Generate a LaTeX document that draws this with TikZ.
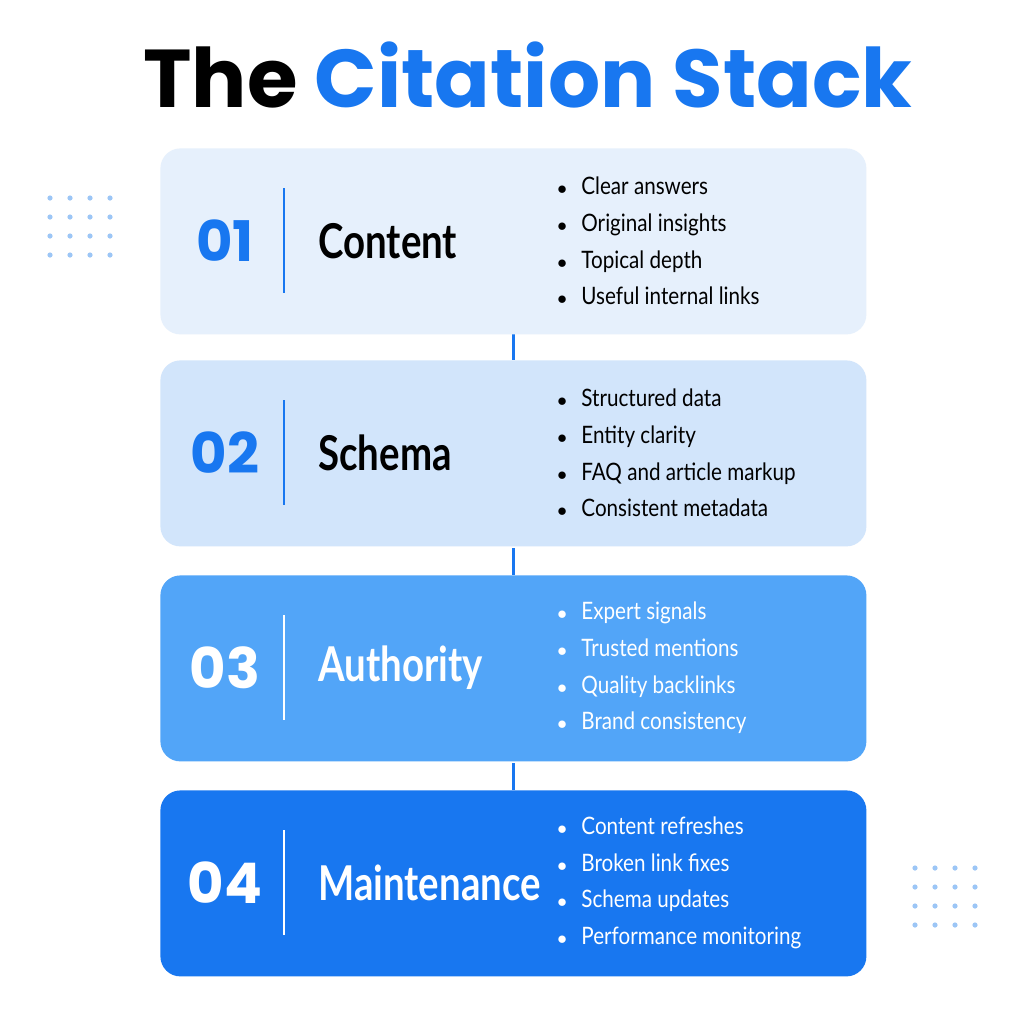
\documentclass[tikz,border=0pt]{standalone}
\usepackage{fontspec}
\setmainfont{Lato}
\newfontfamily\popfont{Poppins}
\newfontfamily\narrowfont[FakeStretch=0.86]{Lato}
\newfontfamily\headfont[FakeStretch=0.8]{Lato}
\usetikzlibrary{positioning}
\definecolor{stackblue}{HTML}{1877F0}
\definecolor{boxA}{HTML}{E6F0FC}
\definecolor{boxB}{HTML}{D2E5FB}
\definecolor{boxC}{HTML}{52A5F8}
\definecolor{boxD}{HTML}{1877F0}
\definecolor{dotblue}{HTML}{9CC6F6}
\tikzset{
  layer/.style={draw=none, rounded corners=10pt, minimum width=353pt, minimum height=93pt, anchor=north west},
  num/.style={font=\popfont\bfseries\fontsize{28}{32}\selectfont, anchor=center},
  head/.style={font=\headfont\bfseries\fontsize{24}{27}\selectfont, anchor=west, inner sep=0pt},
  items/.style={font=\narrowfont\fontsize{12}{18.3}\selectfont, anchor=west, align=left, inner sep=0pt},
  link/.style={stackblue, line width=1.5pt}
}
\newcommand{\bul}{\makebox[12pt][l]{\scalebox{0.8}{$\bullet$}}}
\newcommand{\layer}[7]{%
  \node[layer, fill=#3] (box#1) at (160,#2) {};
  \node[num, text=#4] (num#1) at (225,#2+93) {0#1};
  \draw[#4, line width=0.8pt] (284,#2+40) -- (284,#2+145);
  \node[head, text=#5] (head#1) at (318,#2+93) {#6};
  \node[items, text=#5] (items#1) at (557,#2+93) {#7};
}
\begin{document}
\begin{tikzpicture}[x=0.5pt, y=-0.5pt]
  \useasboundingbox[fill=white] (0,0) rectangle (1024,1024);
  \node[font=\popfont\bfseries\fontsize{41}{44}\selectfont] (title) at (528,75) {The \textcolor{stackblue}{Citation Stack}};
  % dots
  \foreach \i in {0,...,3}
    \foreach \j in {0,...,3} {
      \fill[dotblue] (50+20*\i,198+19*\j) circle (2.6);
      \fill[dotblue] (915+20*\i,868+19*\j) circle (2.6);
    }
  % connectors
  \draw[link] (513,333) -- (513,360);
  \draw[link] (513,548) -- (513,575);
  \draw[link] (513,763) -- (513,790);
  % layers
  \layer{1}{148}{boxA}{stackblue}{black}{Content}{\bul Clear answers\\\bul Original insights\\\bul Topical depth\\\bul Useful internal links}
  \layer{2}{360}{boxB}{stackblue}{black}{Schema}{\bul Structured data\\\bul Entity clarity\\\bul FAQ and article markup\\\bul Consistent metadata}
  \layer{3}{575}{boxC}{white}{white}{Authority}{\bul Expert signals\\\bul Trusted mentions\\\bul Quality backlinks\\\bul Brand consistency}
  \layer{4}{790}{boxD}{white}{white}{Maintenance}{\bul Content refreshes\\\bul Broken link fixes\\\bul Schema updates\\\bul Performance monitoring}
\end{tikzpicture}
\end{document}
